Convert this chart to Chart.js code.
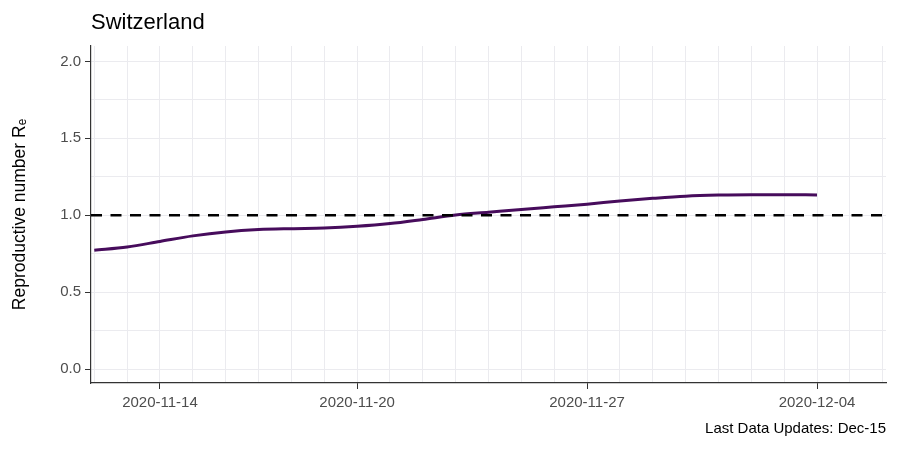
<!DOCTYPE html>
<html>
<head>
<meta charset="utf-8">
<script src="https://cdn.jsdelivr.net/npm/chart.js@4/dist/chart.umd.min.js"></script>
<style>
  html, body { margin: 0; padding: 0; background: #ffffff; }
  #wrap { width: 900px; height: 450px; }
</style>
</head>
<body>
<div id="wrap"><canvas id="c" width="900" height="450"></canvas></div>
<script>
// ---- data ----
const chartTitle = 'Switzerland';
const footerText = 'Last Data Updates: Dec-15';
const yAxisTitle = 'Reproductive number R\u2091';
const dates = [
  '2020-11-12','2020-11-13','2020-11-14','2020-11-15','2020-11-16','2020-11-17',
  '2020-11-18','2020-11-19','2020-11-20','2020-11-21','2020-11-22','2020-11-23',
  '2020-11-24','2020-11-25','2020-11-26','2020-11-27','2020-11-28','2020-11-29',
  '2020-11-30','2020-12-01','2020-12-02','2020-12-03','2020-12-04'
];
const reValues = [
  0.773, 0.794, 0.830, 0.866, 0.892, 0.907,
  0.913, 0.917, 0.928, 0.946, 0.973, 1.002,
  1.020, 1.038, 1.055, 1.072, 1.093, 1.110,
  1.124, 1.131, 1.134, 1.134, 1.132
];
const labelledDates = ['2020-11-14','2020-11-20','2020-11-27','2020-12-04'];
const referenceLevel = 1.0;
const yMajorTicks = [0.0, 0.5, 1.0, 1.5, 2.0];
const yMinorTicks = [0.25, 0.75, 1.25, 1.75];

// ---- chart ----
const X_MIN = -0.1, X_MAX = 24.1;
const Y_MIN = -0.09, Y_MAX = 2.1;
const FONT = '"Liberation Sans", Arial, Helvetica, sans-serif';

const seriesPoints = reValues.map((v, i) => ({ x: i, y: v }));
const refPoints = [{ x: X_MIN, y: referenceLevel }, { x: X_MAX, y: referenceLevel }];
const labelledIdx = labelledDates.map(d => dates.indexOf(d));

const xGridTicks = [];
for (let i = Math.ceil(X_MIN); i <= Math.floor(X_MAX); i++) xGridTicks.push(i);

function dateLabel(i) {
  if (i < dates.length) return dates[i];
  return '';
}

const textPlugin = {
  id: 'textPlugin',
  afterDraw(chart) {
    const ctx = chart.ctx, a = chart.chartArea;
    ctx.save();
    ctx.fillStyle = '#000000';
    ctx.font = '22px ' + FONT;
    ctx.textAlign = 'left';
    ctx.textBaseline = 'alphabetic';
    ctx.fillText(chartTitle, a.left, 29);
    ctx.font = '15px ' + FONT;
    ctx.textAlign = 'right';
    ctx.fillText(footerText, a.right, 433);
    ctx.restore();
  }
};

new Chart(document.getElementById('c'), {
  type: 'line',
  data: {
    datasets: [
      {
        label: 'Re',
        data: seriesPoints,
        borderColor: '#470c5c',
        borderWidth: 3,
        pointRadius: 0,
        cubicInterpolationMode: 'monotone',
        fill: false,
        order: 1
      },
      {
        label: 'threshold',
        data: refPoints,
        borderColor: '#000000',
        borderWidth: 2.5,
        borderDash: [11, 8.5],
        pointRadius: 0,
        fill: false,
        order: 0
      }
    ]
  },
  options: {
    responsive: false,
    animation: false,
    events: [],
    layout: { padding: { top: 46, right: 14, left: 0, bottom: 37 } },
    plugins: {
      legend: { display: false },
      tooltip: { enabled: false },
      title: { display: false }
    },
    scales: {
      x: {
        type: 'linear',
        min: X_MIN,
        max: X_MAX,
        afterBuildTicks(scale) {
          scale.ticks = xGridTicks.map(v => ({ value: v }));
        },
        afterFit(scale) { scale.height = 30; },
        grid: {
          color: '#ebebef',
          lineWidth: 1,
          drawTicks: true,
          tickLength: 6,
          tickColor: (c) => (c.tick && labelledIdx.includes(c.tick.value)) ? '#333333' : 'rgba(0,0,0,0)',
          tickWidth: 1
        },
        border: { display: true, color: '#333333', width: 1.2 },
        ticks: {
          autoSkip: false,
          maxRotation: 0,
          padding: 5,
          color: '#4d4d4d',
          font: { family: FONT, size: 15 },
          callback: (v) => labelledIdx.includes(v) ? dateLabel(v) : ''
        }
      },
      y: {
        type: 'linear',
        min: Y_MIN,
        max: Y_MAX,
        afterBuildTicks(scale) {
          scale.ticks = yMajorTicks.concat(yMinorTicks).sort((a, b) => a - b).map(v => ({ value: v }));
        },
        afterFit(scale) { scale.width = 91; },
        grid: {
          color: '#ebebef',
          lineWidth: 1,
          drawTicks: true,
          tickLength: 6,
          tickColor: (c) => (c.tick && yMajorTicks.includes(c.tick.value)) ? '#333333' : 'rgba(0,0,0,0)',
          tickWidth: 1
        },
        border: { display: true, color: '#333333', width: 1.2 },
        ticks: {
          autoSkip: false,
          padding: 4,
          color: '#4d4d4d',
          font: { family: FONT, size: 15 },
          callback: (v) => yMajorTicks.includes(v) ? v.toFixed(1) : ''
        },
        title: {
          display: true,
          text: yAxisTitle,
          color: '#000000',
          font: { family: FONT, size: 17.5 },
          padding: { top: 10, bottom: 0 }
        }
      }
    }
  },
  plugins: [textPlugin]
});
</script>
</body>
</html>
